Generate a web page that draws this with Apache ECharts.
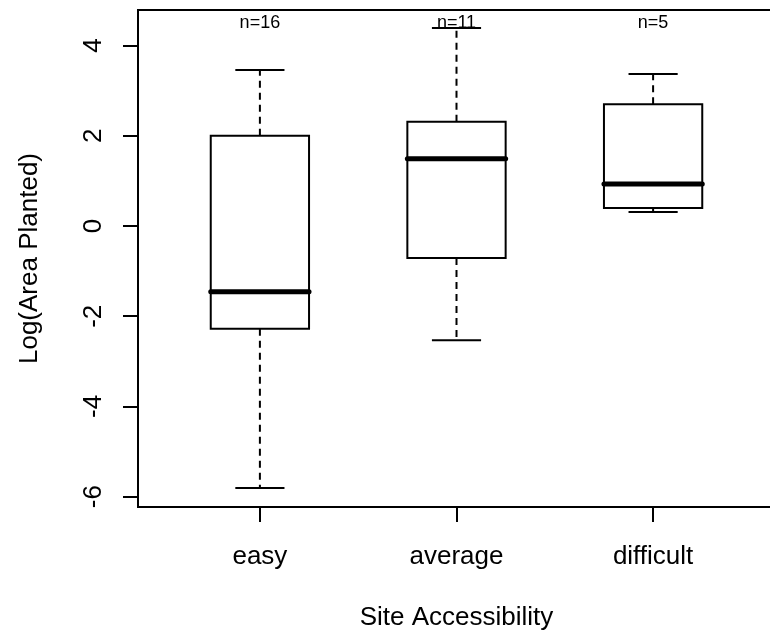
<!DOCTYPE html>
<html><head><meta charset="utf-8">
<script src="https://cdn.jsdelivr.net/npm/echarts@6/dist/echarts.min.js"></script>
<style>html,body{margin:0;padding:0;background:#fff}#c{width:770px;height:640px}</style>
</head><body><div id="c"></div>
<script>
const categories = ['easy', 'average', 'difficult'];
const whiskerLow = [-5.81, -2.53, 0.31];
const lowerQuartile = [-2.28, -0.71, 0.40];
const medians = [-1.46, 1.49, 0.93];
const upperQuartile = [2.00, 2.31, 2.70];
const whiskerHigh = [3.46, 4.39, 3.37];
const counts = [16, 11, 5];
const yTickValues = [-6, -4, -2, 0, 2, 4];
const xTickValues = [1, 2, 3];

const FONT = '"Liberation Sans", Arial, Helvetica, sans-serif';
const boxData = categories.map((c, i) => [i + 1, whiskerLow[i], lowerQuartile[i], medians[i], upperQuartile[i], whiskerHigh[i], counts[i]]);

function whisker(a, b) {
  const len = Math.abs(b[1] - a[1]);
  const style = { stroke: '#000', lineWidth: 2, fill: null };
  if (len > 12) style.lineDash = [7, 5];
  return { type: 'line', shape: { x1: a[0], y1: a[1], x2: b[0], y2: b[1] }, style: style };
}

function renderItem(params, api) {
  const x = api.value(0);
  const hb = 0.25, hs = 0.125;
  const c = (xx, yy) => api.coord([xx, yy]);
  const lo = c(x, api.value(1)), q1 = c(x, api.value(2)), md = c(x, api.value(3)), q3 = c(x, api.value(4)), hi = c(x, api.value(5));
  const xl = c(x - hb, 0)[0], xr = c(x + hb, 0)[0];
  const sl = c(x - hs, 0)[0], sr = c(x + hs, 0)[0];
  const cs = params.coordSys;
  const solid = { stroke: '#000', lineWidth: 2, fill: null };
  return {
    type: 'group',
    children: [
      whisker(q1, lo),
      whisker(q3, hi),
      { type: 'line', shape: { x1: sl, y1: lo[1], x2: sr, y2: lo[1] }, style: solid },
      { type: 'line', shape: { x1: sl, y1: hi[1], x2: sr, y2: hi[1] }, style: solid },
      { type: 'rect', shape: { x: xl, y: q3[1], width: xr - xl, height: q1[1] - q3[1] }, style: { stroke: '#000', lineWidth: 2, fill: '#fff' } },
      { type: 'line', shape: { x1: xl, y1: md[1], x2: xr, y2: md[1] }, style: { stroke: '#000', lineWidth: 5, lineCap: 'round' } },
      { type: 'text', x: q1[0], y: cs.y + 13, style: { text: 'n=' + api.value(6), fill: '#000', font: '18px ' + FONT, align: 'center', verticalAlign: 'middle' } }
    ]
  };
}

const chart = echarts.init(document.getElementById('c'), null, { renderer: 'canvas' });
chart.setOption({
  backgroundColor: '#fff',
  animation: false,
  grid: { left: 138, top: 10, width: 637, height: 497, show: true, borderColor: '#000', borderWidth: 2, backgroundColor: 'transparent', containLabel: false, outerBoundsMode: 'none' },
  xAxis: {
    type: 'value', min: 0.38, max: 3.62, position: 'bottom',
    name: 'Site Accessibility', nameLocation: 'middle', nameGap: 98,
    nameTextStyle: { fontFamily: FONT, fontSize: 26, color: '#000' },
    axisLine: { show: false, onZero: false },
    splitLine: { show: false },
    axisTick: { show: true, inside: false, length: 15, lineStyle: { color: '#000', width: 2 }, customValues: xTickValues },
    axisLabel: { show: true, margin: 37, fontFamily: FONT, fontSize: 26, color: '#000', customValues: xTickValues, formatter: v => categories[Math.round(v) - 1] || '' }
  },
  yAxis: {
    type: 'value', min: -6.23, max: 4.79, position: 'left',
    name: 'Log(Area Planted)', nameLocation: 'middle', nameGap: 95, nameRotate: 90,
    nameTextStyle: { fontFamily: FONT, fontSize: 26, color: '#000' },
    axisLine: { show: false, onZero: false },
    splitLine: { show: false },
    axisTick: { show: true, inside: false, length: 15, lineStyle: { color: '#000', width: 2 }, customValues: yTickValues },
    axisLabel: { show: true, rotate: 90, margin: 31, fontFamily: FONT, fontSize: 26, color: '#000', customValues: yTickValues, formatter: v => String(v) }
  },
  series: [{
    type: 'custom', renderItem: renderItem, data: boxData,
    encode: { x: 0, y: [1, 2, 3, 4, 5] }, clip: false
  }]
});
</script></body></html>
